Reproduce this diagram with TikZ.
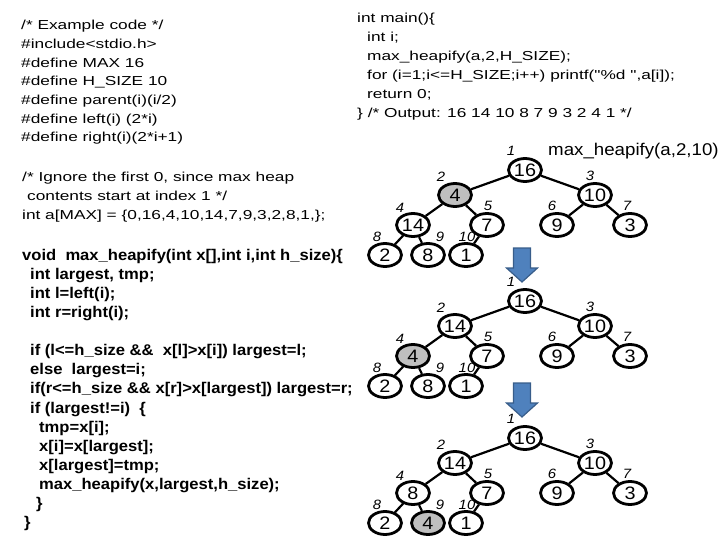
\documentclass[tikz,border=0pt]{standalone}
\usepackage{fontspec}
\setmainfont{Liberation Sans}
\newfontfamily\codefont{Liberation Sans}[FakeStretch=1.33]
\newfontfamily\codebold{Liberation Sans}[FakeStretch=1.07]
\newfontfamily\treefont{Liberation Sans}[FakeStretch=1.1]
\usetikzlibrary{shapes.geometric}

\definecolor{heapgray}{RGB}{191,191,191}
\definecolor{arrowfill}{RGB}{79,129,189}
\definecolor{arrowline}{RGB}{56,93,138}

\tikzset{
  codeline/.style={anchor=base west, inner sep=0pt, font=\codefont\fontsize{13}{13}\selectfont},
  boldline/.style={anchor=base west, inner sep=0pt, font=\codebold\bfseries\fontsize{15.5}{15.5}\selectfont},
  heapnode/.style={ellipse, draw, line width=2.8pt, minimum width=33pt, minimum height=23pt,
    inner sep=0pt, font=\treefont\fontsize{18}{18}\selectfont},
  idxlabel/.style={inner sep=0pt, font=\treefont\itshape\fontsize{13.5}{13.5}\selectfont},
  heapedge/.style={line width=2.2pt},
  blockarrow/.style={draw=arrowline, fill=arrowfill, line width=1.2pt, line join=miter}
}

\begin{document}
\begin{tikzpicture}[x=1pt,y=-1pt]
\useasboundingbox (0,0) rectangle (720,540);

% defines
\foreach \txt [count=\k] in {
{/* Example code */},
{\#include<stdio.h>},
{\#define MAX 16},
{\#define H\_SIZE 10},
{\#define parent(i)(i/2)},
{\#define left(i) (2*i)},
{\#define right(i)(2*i+1)}
}{
  \node[codeline] (def\k) at (21,29.7+18.7*\k-18.7) {\txt};
}

% main
\foreach \x/\txt [count=\k] in {
357/{int main()\{},
367/{int i;},
367/{max\_heapify(a,2,H\_SIZE);},
367/{for (i=1;i<=H\_SIZE;i++) printf("\%d ",a[i]);},
367/{return 0;},
357/{\} /* Output: 16 14 10 8 7 9 3 2 4 1 */}
}{
  \node[codeline] (main\k) at (\x,22.7+19*\k-19) {\txt};
}

% array
\foreach \x/\txt [count=\k] in {
22/{/* Ignore the first 0, since max heap},
27/{contents start at index 1 */},
22/{int a[MAX] = \{0,16,4,10,14,7,9,3,2,8,1,\};}
}{
  \node[codeline] (arr\k) at (\x,181.7+18.7*\k-18.7) {\txt};
}

% max_heapify, bold
\foreach \k/\x/\txt in {
1/22/{void\ \ max\_heapify(int x[],int i,int h\_size)\{},
2/30/{int largest, tmp;},
3/30/{int l=left(i);},
4/30/{int r=right(i);},
6/30/{if (l<=h\_size \&\&\ \ x[l]>x[i]) largest=l;},
7/30/{else\ \ largest=i;},
8/30/{if(r<=h\_size \&\& x[r]>x[largest]) largest=r;},
9/30/{if (largest!=i)\ \ \{},
10/39/{tmp=x[i];},
11/39/{x[i]=x[largest];},
12/39/{x[largest]=tmp;},
13/39/{max\_heapify(x,largest,h\_size);},
14/36/{\}},
15/24/{\}}
}{
  \node[boldline] (fn\k) at (\x,260.5+19.07*\k-19.07) {\txt};
}

\node[anchor=base west, inner sep=0pt, font=\treefont\fontsize{17}{17}\selectfont]
  (title) at (548,156) {max\_heapify(a,2,10)};

% heaps
\foreach \t/\ty/\va/\vb/\vc/\vd/\ve/\vf/\vg/\vh/\vi/\vj/\g in {
1/170/16/4/10/14/7/9/3/2/8/1/2,
2/301/16/14/10/4/7/9/3/2/8/1/4,
3/438/16/14/10/8/7/9/3/2/4/1/9}{
  \foreach \i/\x/\dy/\v/\lx/\ly in {
    1/525/0/\va/-14/-19,
    2/455/25/\vb/-14/-18,
    3/595/25/\vc/-5/-19,
    4/413/55/\vd/-13/-17,
    5/487/55/\ve/1/-19,
    6/557/55/\vf/-5/-19,
    7/630/55/\vg/-3/-19,
    8/385/85/\vh/-8/-18,
    9/428/85/\vi/12/-18,
    10/466/85/\vj/1/-18}{
    \ifnum\i=\g \def\nfill{heapgray}\else\def\nfill{white}\fi
    \node[heapnode, fill=\nfill] (t\t n\i) at (\x,\ty+\dy) {\v};
    \node[idxlabel] (t\t l\i) at ([shift={(\lx,\ly)}]t\t n\i) {\i};
  }
  \foreach \i in {2,...,10}{
    \pgfmathtruncatemacro\p{\i/2}
    \draw[heapedge] (t\t n\p) -- (t\t n\i);
  }
}

% arrows between steps
\coordinate (step1) at (522,248);
\coordinate (step2) at (522,383);
\foreach \s in {step1,step2}
  \draw[blockarrow] ([shift={(-8.5,0)}]\s) -- ++(17,0) -- ++(0,20) -- ++(7,0)
    -- ++(-15.5,14) -- ++(-15.5,-14) -- ++(7,0) -- cycle;
\end{tikzpicture}
\end{document}
